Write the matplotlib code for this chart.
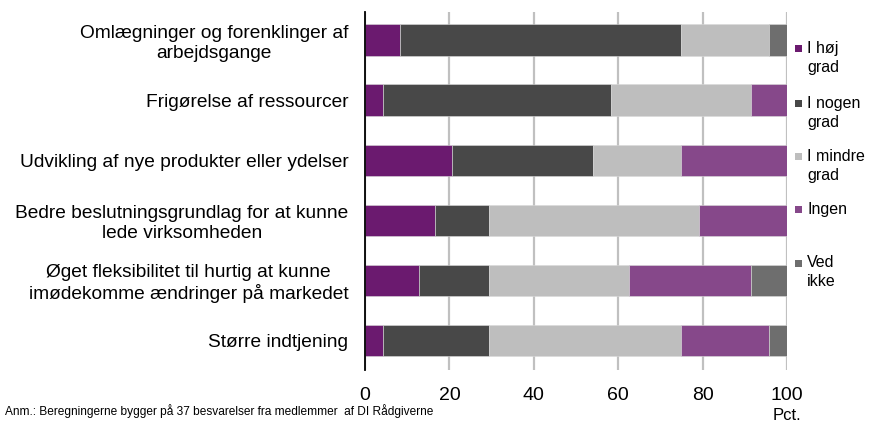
import matplotlib
matplotlib.use("Agg")
import matplotlib.pyplot as plt
import numpy as np
from matplotlib.patches import Rectangle

plt.rcParams['font.family'] = ['Liberation Sans', 'DejaVu Sans']

categories = [
    "Omlægninger og forenklinger af\narbejdsgange",
    "Frigørelse af ressourcer",
    "Udvikling af nye produkter eller ydelser",
    "Bedre beslutningsgrundlag for at kunne\nlede virksomheden",
    "Øget fleksibilitet til hurtig at kunne\nimødekomme ændringer på markedet",
    "Større indtjening",
]
series_names = ["I høj\ngrad", "I nogen\ngrad", "I mindre\ngrad", "Ingen", "Ved\nikke"]
hoej = [8.3, 4.2, 20.7, 16.5, 12.7, 4.2]
nogen = [66.5, 54.0, 33.3, 12.8, 16.6, 25.1]
mindre = [21.0, 33.3, 20.9, 49.9, 33.3, 45.6]
ingen = [0.0, 8.5, 25.1, 20.8, 28.8, 20.8]
ved_ikke = [4.2, 0.0, 0.0, 0.0, 8.6, 4.3]
xticks = [0, 20, 40, 60, 80, 100]

colors = ["#6B1A6F", "#484848", "#BEBEBE", "#86488A", "#6E6E6E"]

W, H = 871, 423
fig = plt.figure(figsize=(W/100, H/100), dpi=100)
ax = fig.add_axes([365/W, 53/H, (787-365)/W, (370-12)/H])

y = np.arange(len(categories))
left = np.zeros(len(categories))
for vals, c in zip([hoej, nogen, mindre, ingen, ved_ikke], colors):
    vals = np.array(vals)
    ax.barh(y, vals, left=left, height=0.52, color=c, edgecolor='#d9d9d9', linewidth=0.4, zorder=3)
    left += vals

ax.set_xlim(0, 100)
ax.set_ylim(5.49, -0.466)
ax.set_xticks(xticks)
ax.set_xticklabels([str(t) for t in xticks], fontsize=14)
ax.set_yticks(y)
ax.set_yticklabels(categories, fontsize=13.8)
for lab in ax.get_yticklabels():
    lab.set_multialignment('center')
ax.tick_params(axis='y', length=0, pad=12)
ax.tick_params(axis='x', length=0, pad=12)
ax.grid(axis='x', color='#C0C0C0', linewidth=1.6, zorder=0)
for s in ['top', 'right', 'bottom']:
    ax.spines[s].set_visible(False)
ax.spines['left'].set_color('black')
ax.spines['left'].set_linewidth(1.3)
ax.spines['left'].set_zorder(4)

# legend drawn manually (marker aligned with first text line)
first_line_y = [49, 104, 157, 210, 263]
for name, c, yy in zip(series_names, colors, first_line_y):
    fig.patches.append(Rectangle((795/W, 1 - (yy + 3.5)/H), 7/W, 7/H,
                                 transform=fig.transFigure, facecolor=c, edgecolor='none'))
    fig.text(807/W, 1 - (yy - 8)/H, name, fontsize=11.5, ha='left', va='top',
             linespacing=1.3)

fig.text(5/W, 1 - 411/H, "Anm.: Beregningerne bygger på 37 besvarelser fra medlemmer  af DI Rådgiverne",
         fontsize=8.6, ha='left', va='center')
fig.text(787/W, 1 - 415/H, "Pct.", fontsize=12, ha='center', va='center')

fig.savefig("out.png", dpi=100)
